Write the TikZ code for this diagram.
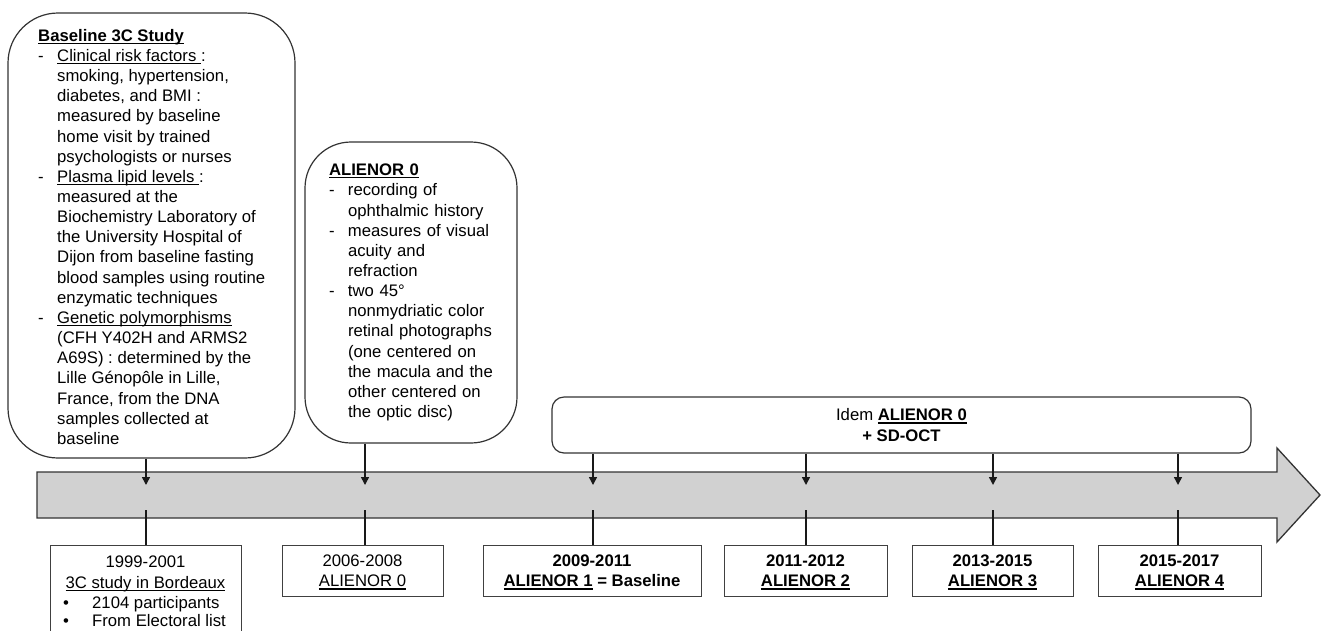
\documentclass[tikz,border=0pt]{standalone}
\usepackage{fontspec}
\setmainfont{Liberation Sans}
\usetikzlibrary{arrows.meta}
\newsavebox\ulbox
\newcommand\myul[1]{\sbox\ulbox{#1}\rlap{\rule[-2.6pt]{\wd\ulbox}{1.1pt}}\usebox{\ulbox}}
\newcommand\hdash{\makebox[19pt][l]{-}}
\newcommand\hind{\hspace*{19pt}}
\newcommand\fs{\fontsize{16.7}{20.15}\selectfont}
\begin{document}
\begin{tikzpicture}[x=1pt,y=-1pt,
  rbox/.style={draw=black!80, line width=1.2pt, fill=white, align=left, font=\fs},
  dbox/.style={draw=black!75, line width=1pt, fill=white, align=center, anchor=north, minimum height=51pt, text depth=0pt, font=\fs},
  conn/.style={line width=1.5pt, draw=black!90},
  arr/.style={conn, -{Triangle[length=8pt,width=8pt]}}]
\useasboundingbox (0,0) rectangle (1324,630);
\clip (0,0) rectangle (1324,630);
% rounded boxes
\node[rbox, rounded corners=50pt, minimum width=287pt, minimum height=445pt] (ctx) at (151.5,235.5) {};
\node[align=left, anchor=north west, inner sep=0pt, font=\fs] (ctxt) at (38,29) {%
\textbf{\myul{Baseline 3C Study}}\\
\hdash\myul{Clinical risk factors\ }:\\
\hind smoking, hypertension,\\
\hind diabetes, and BMI :\\
\hind measured by baseline\\
\hind home visit by trained\\
\hind psychologists or nurses\\
\hdash\myul{Plasma lipid levels\ }:\\
\hind measured at the\\
\hind Biochemistry Laboratory of\\
\hind the University Hospital of\\
\hind Dijon from baseline fasting\\
\hind blood samples using routine\\
\hind enzymatic techniques\\
\hdash\myul{Genetic polymorphisms}\\
\hind (CFH Y402H and ARMS2\\
\hind A69S) : determined by the\\
\hind Lille Génopôle in Lille,\\
\hind France, from the DNA\\
\hind samples collected at\\
\hind baseline};
\node[rbox, rounded corners=46pt, text width=164pt, inner xsep=24pt, minimum height=301pt] (al0) at (411,292.5) {%
\textbf{\myul{ALIENOR 0}}\\
\hdash recording of\\
\hind ophthalmic history\\
\hdash measures of visual\\
\hind acuity and\\
\hind refraction\\
\hdash two 45°\\
\hind nonmydriatic color\\
\hind retinal photographs\\
\hind (one centered on\\
\hind the macula and the\\
\hind other centered on\\
\hind the optic disc)};
\node[rbox, rounded corners=12pt, align=center, minimum width=699pt, minimum height=56pt] (idem) at (901.5,425) {Idem \textbf{\myul{ALIENOR 0}}\\\textbf{+ SD-OCT}};
% timeline arrow
\draw[fill=black!18, draw=black!80, line width=1.3pt] (37,472) -- (1277,472) -- (1277,448) -- (1320,495) -- (1277,542) -- (1277,518) -- (37,518) -- cycle;
% bottom boxes
\node[dbox, minimum width=191pt, minimum height=100pt] (d1) at (145.5,545) {};
\node[align=center, anchor=north, inner sep=0pt, font=\fs] (d1a) at (145.5,556) {1999-2001\\\myul{3C study in Bordeaux}};
\node[align=left, anchor=north west, inner sep=0pt, font=\fontsize{16.7}{18}\selectfont] (d1b) at (63,596) {\makebox[29pt][l]{•}2104 participants\\\makebox[29pt][l]{•}From Electoral list};
\node[dbox, minimum width=161pt] (d2) at (362.5,545) {2006-2008\\\myul{ALIENOR 0}};
\node[dbox, minimum width=218pt] (d3) at (592,545) {\textbf{2009-2011}\\\textbf{\myul{ALIENOR 1} = Baseline}};
\node[dbox, minimum width=163pt] (d4) at (805.5,545) {\textbf{2011-2012}\\\textbf{\myul{ALIENOR 2}}};
\node[dbox, minimum width=161pt] (d5) at (992.5,545) {\textbf{2013-2015}\\\textbf{\myul{ALIENOR 3}}};
\node[dbox, minimum width=163pt] (d6) at (1179.5,545) {\textbf{2015-2017}\\\textbf{\myul{ALIENOR 4}}};
% connector points
\coordinate (a1) at (146,485);  \coordinate (l1) at (146,510);
\coordinate (a2) at (365,485);  \coordinate (l2) at (365,510);
\coordinate (a3) at (593,485);  \coordinate (l3) at (593,510);
\coordinate (a4) at (806,485);  \coordinate (l4) at (806,510);
\coordinate (a5) at (993,485);  \coordinate (l5) at (993,510);
\coordinate (a6) at (1178,485); \coordinate (l6) at (1178,510);
\draw[arr] (ctx.south -| a1) -- (a1);
\draw[arr] (al0.south -| a2) -- (a2);
\draw[arr] (idem.south -| a3) -- (a3);
\draw[arr] (idem.south -| a4) -- (a4);
\draw[arr] (idem.south -| a5) -- (a5);
\draw[arr] (idem.south -| a6) -- (a6);
\draw[conn] (l1) -- (d1.north -| l1);
\draw[conn] (l2) -- (d2.north -| l2);
\draw[conn] (l3) -- (d3.north -| l3);
\draw[conn] (l4) -- (d4.north -| l4);
\draw[conn] (l5) -- (d5.north -| l5);
\draw[conn] (l6) -- (d6.north -| l6);
\end{tikzpicture}
\end{document}
